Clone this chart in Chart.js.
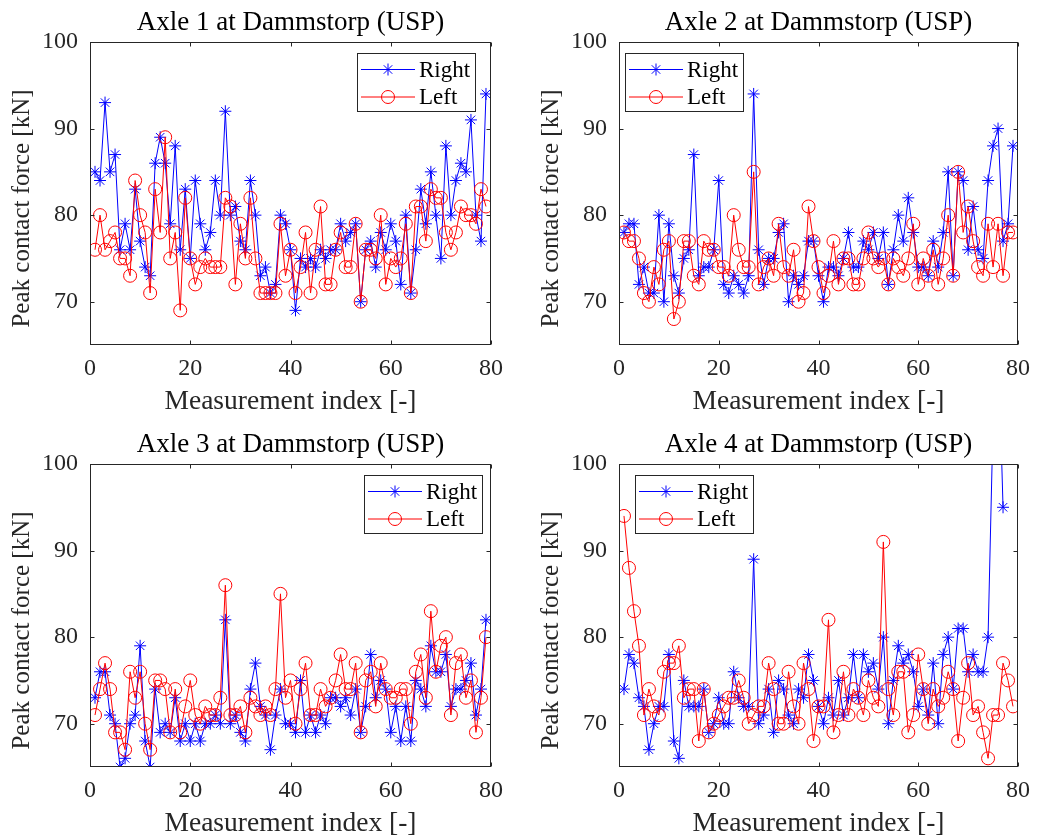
<!DOCTYPE html>
<html><head><meta charset="utf-8">
<script src="https://cdn.jsdelivr.net/npm/chart.js@4/dist/chart.umd.min.js"></script>
<style>
html,body{margin:0;padding:0;background:#fff;overflow:hidden;width:1039px;height:838px;}
canvas{position:absolute;display:block;}
</style></head><body>
<canvas id="c1" width="519" height="419" style="left:0;top:0;width:519px;height:419px"></canvas>
<canvas id="c2" width="510" height="419" style="left:529px;top:0;width:510px;height:419px"></canvas>
<canvas id="c3" width="519" height="419" style="left:0;top:422px;width:519px;height:419px"></canvas>
<canvas id="c4" width="510" height="419" style="left:529px;top:422px;width:510px;height:419px"></canvas>
<script>
const titles = ["Axle 1 at Dammstorp (USP)","Axle 2 at Dammstorp (USP)","Axle 3 at Dammstorp (USP)","Axle 4 at Dammstorp (USP)"];
const seriesNames = ["Right","Left"];
const xLabel = "Measurement index [-]";
const yLabel = "Peak contact force [kN]";
const xTicks = [0,20,40,60,80];
const yTicks = [70,80,90,100];

const axle1Right = [85,84,93,85,87,76,79,76,83,77,74,73,86,89,86,79,88,76,83,75,84,79,76,78,84,80,92,80,81,77,76,84,80,73,74,71,72,80,79,76,69,75,74,75,74,76,75,76,76,79,77,78,79,70,76,77,74,78,76,79,77,72,80,71,76,83,79,85,80,75,88,80,84,86,85,91,80,77,94];
const axle1Left  = [76,80,76,77,78,75,75,73,84,80,78,71,83,78,89,75,78,69,82,75,72,74,75,74,74,74,82,81,72,79,75,82,75,71,71,71,71,79,73,76,71,74,78,71,76,81,72,72,76,78,74,74,79,70,76,76,75,80,72,75,74,75,79,71,81,81,77,83,82,82,78,76,78,81,80,80,79,83,81];
const axle2Right = [78,79,79,72,74,71,71,80,70,79,73,71,75,76,87,73,74,74,76,84,72,71,73,72,71,73,94,76,72,75,75,78,79,70,73,72,73,77,77,73,70,74,74,73,75,78,74,74,77,76,78,75,78,72,76,80,77,82,78,74,74,73,77,74,78,85,73,85,84,76,81,76,75,84,88,90,77,79,88];
const axle2Left  = [78,77,77,75,71,70,74,72,76,77,68,70,77,77,73,72,77,76,76,74,74,73,80,76,74,74,85,72,74,75,73,79,74,73,76,70,71,81,77,74,71,73,77,72,75,75,72,72,75,78,75,74,75,72,75,74,73,75,79,72,75,73,76,72,75,80,73,85,78,81,77,74,73,79,74,79,73,78,78];
const axle3Right = [73,76,76,71,70,65,66,70,71,79,68,65,74,69,70,69,73,68,70,68,70,68,70,70,71,70,82,70,71,69,68,74,77,72,71,67,71,74,70,70,69,75,69,71,69,71,70,73,73,72,73,71,74,69,72,78,73,75,74,69,72,68,72,68,75,74,72,79,76,76,78,72,74,74,75,77,71,74,82];
const axle3Left  = [71,74,77,74,69,69,67,76,73,76,70,67,75,75,74,69,74,69,72,75,71,70,72,71,71,73,86,71,71,72,69,73,72,71,72,71,74,85,73,75,70,74,77,71,71,74,72,73,75,78,74,74,77,69,75,76,72,77,74,73,73,74,74,70,76,78,73,83,76,79,80,71,77,78,73,75,69,73,80];
const axle4Right = [74,78,77,73,72,67,70,72,72,78,68,66,75,72,72,72,74,69,70,73,70,70,76,73,72,72,89,70,71,74,69,75,74,71,70,74,73,78,75,72,70,73,71,75,71,73,78,73,78,76,77,74,80,70,75,79,77,78,76,72,74,71,77,70,78,80,74,81,81,76,78,76,76,80,105,115,95];
const axle4Left  = [94,88,83,79,71,74,72,71,76,77,77,79,73,74,74,68,74,69,70,71,72,73,73,75,73,70,71,72,72,77,74,70,70,76,72,70,77,74,68,72,72,82,69,71,76,71,74,73,71,75,73,72,91,74,71,76,76,69,71,78,74,70,74,72,73,76,74,68,73,77,71,72,69,66,71,71,77,75,72];

const panels = [
  {id:"c1", title:titles[0], right:axle1Right, left:axle1Left, padRight:28, legend:{side:"right", inset:16}},
  {id:"c2", title:titles[1], right:axle2Right, left:axle2Left, padRight:19, legend:{side:"left", inset:6}},
  {id:"c3", title:titles[2], right:axle3Right, left:axle3Left, padRight:28, legend:{side:"right", inset:9}},
  {id:"c4", title:titles[3], right:axle4Right, left:axle4Left, padRight:19, legend:{side:"left", inset:16}}
];

const AXC = "#262626";
const SERIF = "'Liberation Serif','Times New Roman',serif";

function drawMarker(ctx, style, r, x, y, color){
  ctx.save();
  ctx.strokeStyle = color; ctx.lineWidth = 1;
  ctx.beginPath();
  if (style === "circle") {
    ctx.arc(x, y, r, 0, Math.PI*2);
  } else {
    const d = r*Math.SQRT1_2;
    ctx.moveTo(x-r,y); ctx.lineTo(x+r,y);
    ctx.moveTo(x,y-r); ctx.lineTo(x,y+r);
    ctx.moveTo(x-d,y-d); ctx.lineTo(x+d,y+d);
    ctx.moveTo(x-d,y+d); ctx.lineTo(x+d,y-d);
  }
  ctx.stroke();
  ctx.restore();
}

const boxPlugin = {
  id: "matlabBox",
  afterDatasetsDraw(chart){
    const {ctx, chartArea:a, scales:{x, y}} = chart;
    const L = Math.round(a.left)+0.5, R = Math.round(a.right)-0.5, T = Math.round(a.top)+0.5, B = Math.round(a.bottom)-0.5;
    ctx.save();
    ctx.strokeStyle = AXC; ctx.lineWidth = 1;
    ctx.beginPath();
    const tl = 4;
    x.ticks.forEach(t => {
      const px = Math.round(x.getPixelForValue(t.value))+0.5;
      ctx.moveTo(px, B); ctx.lineTo(px, B-tl);
      ctx.moveTo(px, T); ctx.lineTo(px, T+tl);
    });
    y.ticks.forEach(t => {
      const py = Math.round(y.getPixelForValue(t.value))+0.5;
      ctx.moveTo(L, py); ctx.lineTo(L+tl, py);
      ctx.moveTo(R, py); ctx.lineTo(R-tl, py);
    });
    ctx.stroke();
    ctx.strokeRect(L, T, R-L, B-T);
    // y axis label (MATLAB places it slightly below the axis centre here)
    ctx.save();
    ctx.fillStyle = AXC;
    ctx.font = "25px " + SERIF;
    ctx.textAlign = "center"; ctx.textBaseline = "middle";
    ctx.translate(y.left + 22, (a.top + a.bottom)/2 + 15);
    ctx.rotate(-Math.PI/2);
    ctx.fillText(yLabel, 0, 0);
    ctx.restore();
    // legend
    const lg = chart.options.plugins.matlabLegend;
    if (lg) {
      const w = 118, h = 58;
      const bx = lg.side === "right" ? Math.round(a.right) - lg.inset - w : Math.round(a.left) + lg.inset;
      const by = Math.round(a.top) + 11;
      ctx.fillStyle = "#fff";
      ctx.fillRect(bx, by, w, h);
      ctx.strokeStyle = AXC;
      ctx.strokeRect(bx+0.5, by+0.5, w, h);
      chart.data.datasets.forEach((ds, i) => {
        const ry = by + 16.5 + i*27.5;
        ctx.strokeStyle = ds.borderColor; ctx.lineWidth = 1;
        ctx.beginPath(); ctx.moveTo(bx+4, ry); ctx.lineTo(bx+58, ry); ctx.stroke();
        drawMarker(ctx, ds.pointStyle, ds.pointRadius, bx+31, ry, ds.borderColor);
        ctx.fillStyle = "#000";
        ctx.font = "23px " + SERIF;
        ctx.textBaseline = "middle"; ctx.textAlign = "left";
        ctx.fillText(ds.label, bx+62, ry+1);
      });
    }
    ctx.restore();
  }
};

function toPoints(vals){ return vals.map((v,i) => ({x:i+1, y:v})); }

panels.forEach(p => {
  new Chart(document.getElementById(p.id), {
    type: "line",
    data: {
      datasets: [
        {label:seriesNames[0], data:toPoints(p.right), borderColor:"#0000ff", backgroundColor:"rgba(0,0,0,0)",
         borderWidth:1, pointStyle:"star", pointRadius:6, pointBorderWidth:1, pointBorderColor:"#0000ff",
         tension:0, order:1, clip:0},
        {label:seriesNames[1], data:toPoints(p.left), borderColor:"#ff0000", backgroundColor:"rgba(0,0,0,0)",
         borderWidth:1, pointStyle:"circle", pointRadius:6.5, pointBorderWidth:1, pointBorderColor:"#ff0000",
         pointBackgroundColor:"rgba(0,0,0,0)", tension:0, order:0, clip:0}
      ]
    },
    options: {
      responsive:false, animation:false, devicePixelRatio:1,
      layout:{padding:{left:0, top:0, right:p.padRight, bottom:0}},
      plugins:{
        legend:{display:false}, tooltip:{enabled:false},
        title:{display:true, text:p.title, fullSize:false, color:"#000",
               font:{family:SERIF, size:27, weight:"normal", lineHeight:1.2},
               padding:{top:6.3, bottom:3.3}},
        matlabLegend:p.legend
      },
      scales:{
        x:{type:"linear", min:0, max:80,
           afterBuildTicks(s){ s.ticks = xTicks.map(v => ({value:v})); },
           afterFit(s){ s.height = 74; },
           grid:{display:false, drawTicks:false}, border:{display:false},
           ticks:{color:AXC, padding:9, font:{family:SERIF, size:24}, maxRotation:0, autoSkip:false},
           title:{display:true, text:xLabel, color:AXC, font:{family:SERIF, size:27.5, lineHeight:1.2}, padding:{top:0, bottom:0.5}}},
        y:{type:"linear", min:65, max:100,
           afterBuildTicks(s){ s.ticks = yTicks.map(v => ({value:v})); },
           afterFit(s){ s.width = 90; },
           grid:{display:false, drawTicks:false}, border:{display:false},
           ticks:{color:AXC, padding:12, font:{family:SERIF, size:24}, autoSkip:false},
           title:{display:false, text:yLabel}}
      }
    },
    plugins:[boxPlugin]
  });
});
</script>
</body></html>
